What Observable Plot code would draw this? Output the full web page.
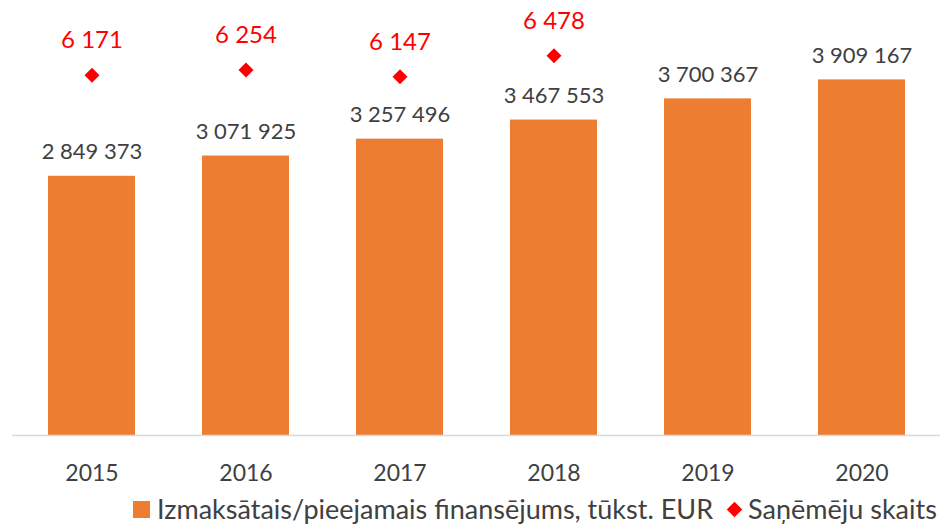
<!DOCTYPE html>
<html>
<head>
<meta charset="utf-8">
<script src="https://cdn.jsdelivr.net/npm/d3@7"></script>
<script src="https://cdn.jsdelivr.net/npm/@observablehq/plot@0.6"></script>
<style>
  html, body { margin: 0; padding: 0; background: #fff; overflow: hidden; }
  #chart { width: 951px; }
  .legend { display: flex; align-items: center; white-space: nowrap; width: 951px; height: 33px; line-height: 33px;
            padding-left: 133px; box-sizing: border-box; font-family: Lato, sans-serif; font-size: 27px; color: #404040; }
  .sw { flex: none; display: inline-block; width: 17px; height: 17px; background: #ED7D31; margin: 2px 7px 0 0; }
  .dm { flex: none; display: inline-block; width: 11px; height: 11px; background: #FF0000; transform: rotate(45deg); margin: 2px 8px 0 16px; }
</style>
</head>
<body>
<div id="chart"></div>
<script>
const years = ["2015", "2016", "2017", "2018", "2019", "2020"];
const funding = [2849373, 3071925, 3257496, 3467553, 3700367, 3909167];
const recipients = [6171, 6254, 6147, 6478, null, null];
const seriesNames = ["Izmaksātais/pieejamais finansējums, tūkst. EUR", "Saņēmēju skaits"];

const fmt = d3.formatLocale({thousands: " ", grouping: [3], decimal: ","}).format(",d");

const yMax = 4540000;
// secondary axis for recipient count, mapped onto the primary scale
const sec = d3.scaleLinear().domain([500, 7000]).range([0, yMax]);

const data = years.map((y, i) => ({year: y, funding: funding[i], recipients: recipients[i]}));
const pts = data.filter(d => d.recipients != null);

const chart = Plot.plot({
  width: 951,
  height: 492,
  marginLeft: 12,
  marginRight: 11,
  marginTop: 22,
  marginBottom: 57,
  style: {fontFamily: "Lato, sans-serif", background: "#fff"},
  x: {domain: years, paddingInner: 0.437, paddingOuter: 0.218, label: null},
  y: {domain: [0, yMax], axis: null},
  marks: [
    Plot.barY(data, {x: "year", y: "funding", fill: "#ED7D31"}),
    Plot.ruleY([0], {stroke: "#D9D9D9", strokeWidth: 1.5}),
    Plot.text(data, {x: "year", y: "funding", text: d => fmt(d.funding), lineAnchor: "bottom", dy: -17, fontSize: 22, fill: "#404040"}),
    Plot.dot(pts, {x: "year", y: d => sec(d.recipients), symbol: "diamond2", r: 6.75, fill: "#FF0000", stroke: "none"}),
    Plot.text(pts, {x: "year", y: d => sec(d.recipients), text: d => fmt(d.recipients), lineAnchor: "bottom", dy: -27, fontSize: 24, fill: "#FF0000"}),
    Plot.axisX({tickSize: 0, tickPadding: 29, fontSize: 23, color: "#404040", label: null})
  ]
});
document.getElementById("chart").appendChild(chart);

const lg = document.createElement("div");
lg.className = "legend";
lg.innerHTML = `<span class="sw"></span><span>${seriesNames[0]}</span><span class="dm"></span><span>${seriesNames[1]}</span>`;
document.getElementById("chart").appendChild(lg);
</script>
</body>
</html>
